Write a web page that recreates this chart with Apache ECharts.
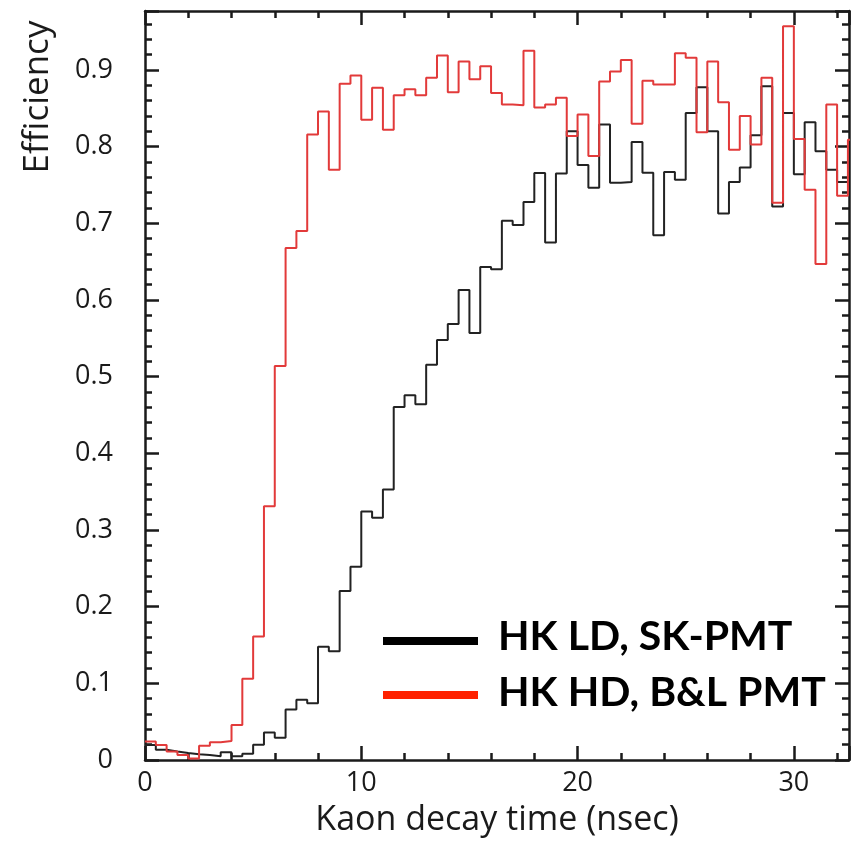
<!DOCTYPE html>
<html>
<head>
<meta charset="utf-8">
<script src="https://cdn.jsdelivr.net/npm/echarts@6/dist/echarts.min.js"></script>
<style>
html,body{margin:0;padding:0;background:#fff;}
#chart{width:852px;height:842px;}
</style>
</head>
<body>
<div id="chart"></div>
<script>
// Histogram bin width (nsec); bins start at 0
var binWidth = 0.5;
// HK LD, SK-PMT efficiency per bin
var ldSkPmt = [0.0195,0.0134,0.011,0.009,0.0074,0.0065,0.0048,0.010,0.0048,0.0082,
  0.020,0.036,0.029,0.066,0.0786,0.074,0.1476,0.142,0.2205,0.252,
  0.324,0.316,0.353,0.4605,0.4757,0.464,0.5156,0.548,0.5686,0.613,
  0.557,0.643,0.640,0.7035,0.698,0.728,0.7656,0.675,0.765,0.820,
  0.776,0.7465,0.829,0.753,0.754,0.806,0.766,0.6845,0.767,0.757,
  0.844,0.8776,0.820,0.713,0.754,0.773,0.815,0.879,0.722,0.844,
  0.764,0.832,0.794,0.770,0.754];
// HK HD, B&L PMT efficiency per bin
var hdBlPmt = [0.024,0.0195,0.011,0.0065,0.002,0.0186,0.023,0.0247,0.0456,0.106,
  0.161,0.331,0.514,0.668,0.690,0.816,0.846,0.770,0.882,0.893,
  0.835,0.877,0.822,0.867,0.875,0.867,0.890,0.919,0.871,0.911,
  0.888,0.905,0.870,0.855,0.854,0.925,0.851,0.855,0.864,0.814,
  0.842,0.788,0.885,0.898,0.913,0.830,0.886,0.881,0.881,0.922,
  0.916,0.819,0.911,0.858,0.796,0.840,0.803,0.890,0.727,0.957,
  0.810,0.744,0.647,0.855,0.736,0.809];
var legendNames = ['HK LD, SK-PMT', 'HK HD, B&L PMT'];
var xTitle = 'Kaon decay time (nsec)';
var yTitle = 'Efficiency';

function toSteps(vals){
  var d = vals.map(function(v,i){ return [i*binWidth, v]; });
  d.push([vals.length*binWidth, vals[vals.length-1]]);
  return d;
}

var chart = echarts.init(document.getElementById('chart'), null, {renderer:'canvas'});
var font = 'Open Sans';
var axisCommon = function(pos, labels){
  return {
    type:'value',
    position: pos,
    axisLine:{show:true, onZero:false, lineStyle:{color:'#1a1a1a', width:2.5}},
    axisTick:{show:true, inside:true, length:14, lineStyle:{color:'#1a1a1a', width:2.5}},
    minorTick:{show:true, splitNumber:5, length:7, lineStyle:{color:'#1a1a1a', width:2.5}},
    splitLine:{show:false},
    axisLabel:{show:labels, showMaxLabel:false, color:'#1a1a1a', fontFamily:font, fontSize:27}
  };
};
var xb = axisCommon('bottom', true);
xb.min = 0; xb.max = 32.55; xb.interval = 10;
xb.axisLabel.margin = 10;
xb.name = xTitle; xb.nameLocation = 'middle'; xb.nameGap = 43;
xb.nameTextStyle = {fontFamily:font, fontSize:34, color:'#1a1a1a'};
var xt = axisCommon('top', false);
xt.min = 0; xt.max = 32.55; xt.interval = 10;
var yl = axisCommon('left', true);
yl.min = 0; yl.max = 0.977; yl.interval = 0.1;
yl.axisLabel.margin = 32;
yl.axisLabel.formatter = function(v){ return v === 0 ? '0' : v.toFixed(1); };
var yr = axisCommon('right', false);
yr.min = 0; yr.max = 0.977; yr.interval = 0.1;

chart.setOption({
  animation:false,
  backgroundColor:'#fff',
  grid:{left:145, right:3, top:11, bottom:81, containLabel:false},
  xAxis:[xb, xt],
  yAxis:[yl, yr],
  series:[
    {name:legendNames[0], type:'line', step:'end', xAxisIndex:0, yAxisIndex:0,
     data: toSteps(ldSkPmt), symbol:'none', clip:true,
     lineStyle:{color:'#222222', width:2}, z:3},
    {name:legendNames[1], type:'line', step:'end', xAxisIndex:0, yAxisIndex:0,
     data: toSteps(hdBlPmt), symbol:'none', clip:true,
     lineStyle:{color:'#e23a3a', width:2}, z:4}
  ],
  graphic:[
    {type:'text', x:38, y:97, rotation:Math.PI/2,
     style:{text:yTitle, fontFamily:font, fontSize:35, fill:'#1a1a1a', align:'center', verticalAlign:'middle'}},
    {type:'line', shape:{x1:383, y1:641, x2:478, y2:641}, style:{stroke:'#000', lineWidth:8}},
    {type:'line', shape:{x1:383, y1:695, x2:478, y2:695}, style:{stroke:'#ff2200', lineWidth:8}},
    {type:'text', x:498, y:637,
     style:{text:legendNames[0], fontFamily:'Lato', fontWeight:'bold', fontSize:41, fill:'#000', align:'left', verticalAlign:'middle'}},
    {type:'text', x:498, y:693,
     style:{text:legendNames[1], fontFamily:'Lato', fontWeight:'bold', fontSize:41, fill:'#000', align:'left', verticalAlign:'middle'}}
  ]
});
</script>
</body>
</html>
